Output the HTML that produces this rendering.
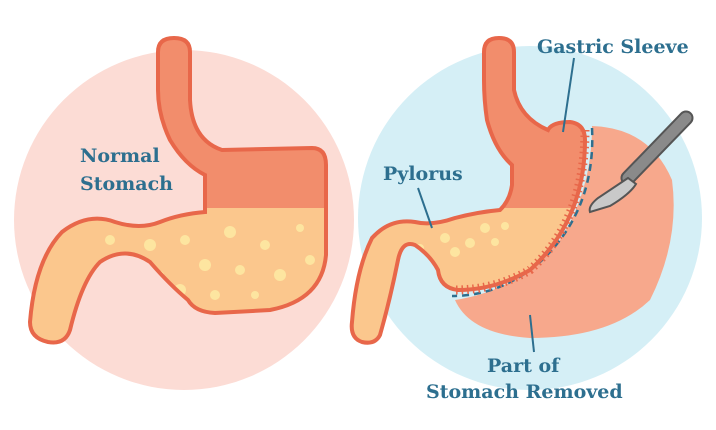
<!DOCTYPE html>
<html><head><style>
html,body{margin:0;padding:0;background:#fff;width:716px;height:430px;overflow:hidden}
text{font-family:"DejaVu Serif","Liberation Serif",serif;font-weight:bold;fill:#2d6f8f;font-size:19px}
</style></head><body>
<svg width="716" height="430" viewBox="0 0 716 430" xmlns="http://www.w3.org/2000/svg">
<defs>
<clipPath id="cl"><path id="ls" d="M158,52 Q158,38 174,38 Q190,38 190,52 L190,100 Q192,140 222,150 L312,148 Q326,148 326,165 L326,255 Q322,300 270,310 L215,313 Q195,312 188,300 Q170,285 150,262 Q125,245 100,262 Q82,280 70,330 Q65,345 48,342 Q30,338 30,322 Q35,260 62,232 Q88,212 115,222 Q140,230 160,222 Q180,214 205,212 L205,175 Q185,165 170,140 Q158,115 158,90 Z"/></clipPath>
<clipPath id="cr"><path id="rs" d="M484,52 Q484,38 499,38 Q514,38 514,52 L514,90 Q520,118 548,130 Q552,122 570,122 Q585,124 585,140 Q585,220 530,270 Q495,290 458,290 Q440,288 438,270 Q430,255 415,245 Q402,240 398,260 Q390,300 380,335 Q375,345 362,342 Q350,338 352,322 Q356,270 372,238 Q390,218 415,222 Q432,226 455,218 Q478,212 500,210 Q510,200 512,185 L512,165 Q495,150 487,120 Q484,100 484,80 Z"/></clipPath>
</defs>
<circle cx="184" cy="220" r="170" fill="#fcdcd5"/>
<circle cx="530" cy="218" r="172" fill="#d5eff6"/>
<!-- left stomach -->
<use href="#ls" fill="#f28d6c"/>
<g clip-path="url(#cl)">
<rect x="0" y="208" width="360" height="200" fill="#fbc78d"/>
<g fill="#fde5a0">
<circle cx="150" cy="245" r="6"/><circle cx="185" cy="240" r="5"/><circle cx="230" cy="232" r="6"/><circle cx="265" cy="245" r="5"/><circle cx="300" cy="228" r="4"/><circle cx="205" cy="265" r="6"/><circle cx="240" cy="270" r="5"/><circle cx="160" cy="275" r="4"/><circle cx="280" cy="275" r="6"/><circle cx="215" cy="295" r="5"/><circle cx="255" cy="295" r="4"/><circle cx="110" cy="240" r="5"/><circle cx="180" cy="290" r="6"/><circle cx="310" cy="260" r="5"/></g>
</g>
<use href="#ls" fill="none" stroke="#e8674a" stroke-width="4"/>
<!-- removed part -->
<path d="M592,126 Q650,128 672,180 Q680,240 650,300 Q610,338 530,338 Q470,334 455,300 Q520,290 560,240 Q592,190 592,126 Z" fill="#f7a88c"/>
<path d="M592,128 Q596,210 540,262 Q500,296 452,296" fill="none" stroke="#2d6f8f" stroke-width="2.5" stroke-dasharray="7,5"/>
<!-- right stomach -->
<use href="#rs" fill="#f28d6c"/>
<g clip-path="url(#cr)">
<rect x="340" y="208" width="300" height="200" fill="#fbc78d"/>
<g fill="#fde5a0"><circle cx="485" cy="228" r="5"/><circle cx="505" cy="226" r="4"/><circle cx="445" cy="238" r="5"/><circle cx="470" cy="243" r="5"/><circle cx="455" cy="252" r="5"/><circle cx="495" cy="242" r="4"/><circle cx="420" cy="248" r="4"/><circle cx="430" cy="264" r="5"/></g>
</g>
<use href="#rs" fill="none" stroke="#e8674a" stroke-width="4"/>
<path d="M585,130 Q585,220 530,270 Q495,290 455,290" fill="none" stroke="#e8674a" stroke-width="9" stroke-dasharray="1.5,4"/>
<!-- scalpel -->
<line x1="628" y1="178" x2="686" y2="118" stroke="#555" stroke-width="15" stroke-linecap="round"/>
<line x1="628" y1="178" x2="686" y2="118" stroke="#8a8a8a" stroke-width="11" stroke-linecap="round"/>
<path d="M628,178 L598,198 Q588,206 590,212 L610,206 Q630,194 636,184 Z" fill="#c9c9c9" stroke="#555" stroke-width="2"/>
<!-- leader lines -->
<line x1="574" y1="58" x2="563" y2="132" stroke="#2d6f8f" stroke-width="2"/>
<line x1="418" y1="188" x2="432" y2="228" stroke="#2d6f8f" stroke-width="2"/>
<line x1="530" y1="315" x2="534" y2="352" stroke="#2d6f8f" stroke-width="2"/>
<text x="80" y="162">Normal</text>
<text x="80" y="190">Stomach</text>
<text x="537" y="53">Gastric Sleeve</text>
<text x="383" y="180">Pylorus</text>
<text x="487" y="372">Part of</text>
<text x="426" y="398">Stomach Removed</text>
</svg>
</body></html>
